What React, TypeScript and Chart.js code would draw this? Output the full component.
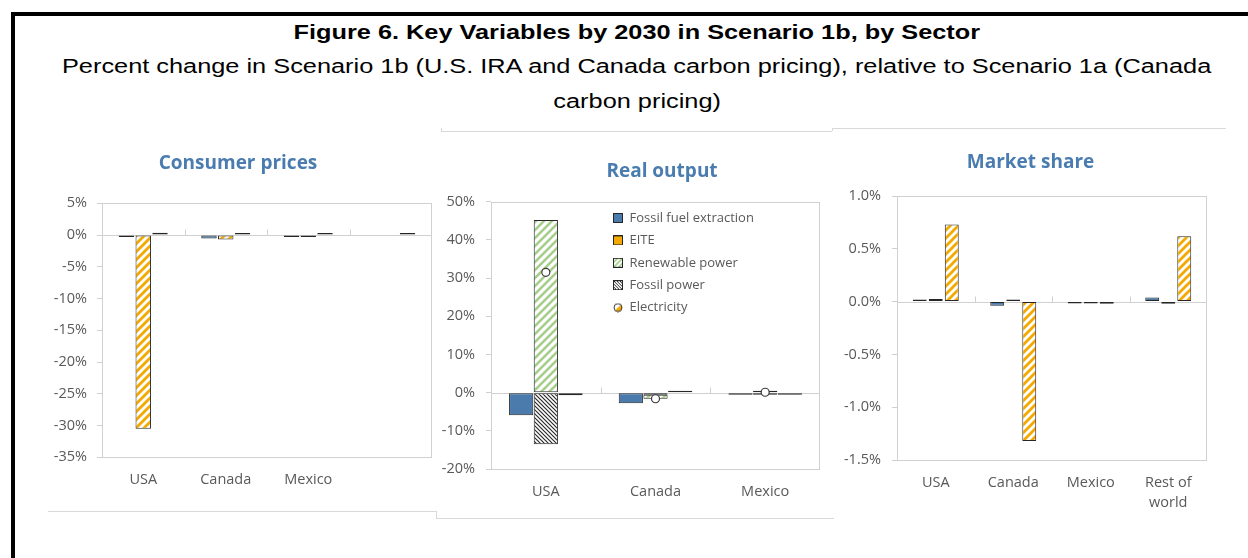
import React, { useEffect, useLayoutEffect, useRef } from "react";
import { Chart, registerables } from "chart.js";

Chart.register(...registerables);

// ---------------- data ----------------
const priceCategories = ["USA", "Canada", "Mexico", ""];
const priceFossilFuel = [-0.1, -0.55, -0.1, null];
const priceElectricity = [-30.5, -0.7, -0.1, null];
const priceEITE = [0.35, 0.1, 0.1, 0.1];
const priceAxis = { min: -35, max: 5, step: 5, decimals: 0 };

const outputCategories = ["USA", "Canada", "Mexico"];
const outputFossilFuel = [-5.9, -2.8, -0.2];
const outputEITE = [-0.7, 0.5, -0.2];
const outputRenewable = [45.2, -1.1, 0.1];
const outputFossilPower = [-13.5, -0.5, -0.1];
const outputElectricity = [31.5, -1.6, 0.1];
const outputAxis = { min: -20, max: 50, step: 10, decimals: 0 };

const shareCategories = ["USA", "Canada", "Mexico", ["Rest of", "world"]];
const shareFossilFuel = [0.005, -0.04, -0.01, 0.04];
const shareEITE = [0.025, 0.01, -0.01, -0.02];
const shareElectricity = [0.73, -1.32, -0.02, 0.62];
const shareAxis = { min: -1.5, max: 1.0, step: 0.5, decimals: 1 };

const legendLabels = ["Fossil fuel extraction", "EITE", "Renewable power", "Fossil power", "Electricity"];

const figureTitle = "Figure 6. Key Variables by 2030 in Scenario 1b, by Sector";
const subtitleLine1 = "Percent change in Scenario 1b (U.S. IRA and Canada carbon pricing), relative to Scenario 1a (Canada";
const subtitleLine2 = "carbon pricing)";

// ---------------- styles ----------------
const BLUE = "#4A7BAC";
const ORANGE = "#F3A900";
const GREEN = "#A6CE8B";
const DARK = "#262626";
const GRID = "#D0D0D0";
const TEXT = "#595959";
const TITLE = "#4A7CB0";
const FONT = "'Open Sans', 'Noto Sans', sans-serif";
const CHROME = "#D9D9D9";

function makeHatch(ctx: CanvasRenderingContext2D, fg: string, size: number, lw: number, rising: boolean) {
  const tile = document.createElement("canvas");
  tile.width = size;
  tile.height = size;
  const t = tile.getContext("2d")!;
  t.fillStyle = "#ffffff";
  t.fillRect(0, 0, size, size);
  t.strokeStyle = fg;
  t.lineWidth = lw;
  t.beginPath();
  for (let k = -1; k <= 1; k++) {
    const x0 = k * size;
    if (rising) {
      t.moveTo(x0 - 1, size + 1);
      t.lineTo(x0 + size + 1, -1);
    } else {
      t.moveTo(x0 - 1, -1);
      t.lineTo(x0 + size + 1, size + 1);
    }
  }
  t.stroke();
  return ctx.createPattern(tile, "repeat")!;
}

function boxIcon(fill: (c: CanvasRenderingContext2D) => string | CanvasPattern) {
  const c = document.createElement("canvas");
  c.width = 10;
  c.height = 10;
  const x = c.getContext("2d")!;
  x.fillStyle = fill(x) as any;
  x.fillRect(0, 0, 10, 10);
  x.strokeStyle = DARK;
  x.lineWidth = 1;
  x.strokeRect(0.5, 0.5, 9, 9);
  return c;
}

function circleIcon() {
  const c = document.createElement("canvas");
  c.width = 10;
  c.height = 10;
  const x = c.getContext("2d")!;
  x.beginPath();
  x.arc(5, 5, 4, 0, Math.PI * 2);
  x.fillStyle = "#ffffff";
  x.fill();
  x.beginPath();
  x.arc(5, 5, 4, -Math.PI / 4, (Math.PI * 3) / 4);
  x.closePath();
  x.fillStyle = ORANGE;
  x.fill();
  x.beginPath();
  x.arc(5, 5, 4, 0, Math.PI * 2);
  x.strokeStyle = "#3A3A3A";
  x.lineWidth = 1;
  x.stroke();
  return c;
}

const framePlugin = {
  id: "excelFrame",
  beforeDatasetsDraw(chart: any) {
    const { ctx, chartArea: a, scales } = chart;
    const x = scales.x;
    const y = scales.y;
    ctx.save();
    ctx.strokeStyle = GRID;
    ctx.lineWidth = 1;
    ctx.strokeRect(Math.round(a.left) + 0.5, Math.round(a.top) + 0.5, Math.round(a.width) - 1, Math.round(a.height));
    const y0 = Math.round(y.getPixelForValue(0)) + 0.5;
    ctx.beginPath();
    ctx.moveTo(a.left, y0);
    ctx.lineTo(a.right, y0);
    const n = chart.data.labels.length;
    for (let i = 1; i < n; i++) {
      const xb = Math.round((x.getPixelForValue(i - 1) + x.getPixelForValue(i)) / 2) + 0.5;
      ctx.moveTo(xb, y0 - 6);
      ctx.lineTo(xb, y0);
    }
    ctx.stroke();
    ctx.restore();
  },
};

type PanelOpts = {
  title: string;
  titlePad: { top: number; bottom: number };
  axis: { min: number; max: number; step: number; decimals: number };
  yWidth: number;
  yPad: number;
  xHeight: number;
  xPad: number;
  xLineHeight: number;
  rightGap: number;
  stacked?: boolean;
};

function panelOptions(p: PanelOpts, legend: any = { display: false }) {
  return {
    responsive: false,
    animation: false,
    events: [],
    devicePixelRatio: 1,
    layout: { padding: 0 },
    plugins: {
      title: {
        display: true,
        text: p.title,
        color: TITLE,
        font: { size: 19, weight: "bold", family: FONT, lineHeight: 1.2 },
        padding: p.titlePad,
      },
      legend,
      tooltip: { enabled: false },
    },
    scales: {
      x: {
        grid: { display: false, drawTicks: false },
        border: { display: false },
        ticks: {
          color: TEXT,
          padding: p.xPad,
          font: { size: 14.5, family: FONT, lineHeight: p.xLineHeight },
          maxRotation: 0,
          autoSkip: false,
        },
        afterFit: (s: any) => {
          s.height = p.xHeight;
        },
      },
      y: {
        min: p.axis.min,
        max: p.axis.max,
        stacked: p.stacked ? true : false,
        grid: { display: true, drawOnChartArea: false, drawTicks: true, tickLength: 5, color: GRID },
        border: { display: false },
        ticks: {
          stepSize: p.axis.step,
          color: TEXT,
          padding: p.yPad,
          font: { size: 14.5, family: FONT },
          callback: (v: any) => Number(v).toFixed(p.axis.decimals) + "%",
        },
        afterFit: (s: any) => {
          s.width = p.yWidth;
        },
      },
      // empty spacer on the right so the title stays centred on the whole chart object
      spacer: {
        type: "linear",
        position: "right",
        display: true,
        grid: { display: false, drawTicks: false },
        border: { display: false },
        ticks: { display: false },
        afterFit: (s: any) => {
          s.width = p.rightGap;
        },
      },
    },
  };
}

function Heading() {
  const t = useRef<HTMLSpanElement>(null);
  const s1 = useRef<HTMLSpanElement>(null);
  const s2 = useRef<HTMLSpanElement>(null);
  useLayoutEffect(() => {
    const fit = (el: HTMLSpanElement | null, target: number) => {
      if (!el) return 1;
      const w = el.offsetWidth || target;
      const k = target / w;
      el.style.transform = `scaleX(${k})`;
      return k;
    };
    fit(t.current, 687);
    const k = fit(s1.current, 1149);
    if (s2.current) s2.current.style.transform = `scaleX(${k})`;
  }, []);
  const line: React.CSSProperties = {
    position: "absolute",
    left: 25,
    width: 1224,
    textAlign: "center",
    whiteSpace: "nowrap",
    lineHeight: "24px",
    color: "#000",
  };
  const span: React.CSSProperties = { display: "inline-block", transformOrigin: "50% 50%" };
  return (
    <>
      <div style={{ ...line, top: 20, font: "bold 21px 'Liberation Sans', Arial, sans-serif" }}>
        <span ref={t} style={span}>{figureTitle}</span>
      </div>
      <div style={{ ...line, top: 55, font: "20px 'Liberation Sans', Arial, sans-serif" }}>
        <span ref={s1} style={span}>{subtitleLine1}</span>
      </div>
      <div style={{ ...line, top: 90, font: "20px 'Liberation Sans', Arial, sans-serif" }}>
        <span ref={s2} style={span}>{subtitleLine2}</span>
      </div>
    </>
  );
}

export default function App() {
  const c1 = useRef<HTMLCanvasElement>(null);
  const c2 = useRef<HTMLCanvasElement>(null);
  const c3 = useRef<HTMLCanvasElement>(null);

  useEffect(() => {
    const charts: Chart[] = [];

    // ---- Panel 1: Consumer prices ----
    const ctx1 = c1.current!.getContext("2d")!;
    const orangeHatch1 = makeHatch(ctx1, ORANGE, 8, 2.8, true);
    const bar1 = {
      borderColor: DARK,
      borderWidth: 1,
      borderSkipped: false,
      minBarLength: 2,
      categoryPercentage: 0.61,
      barPercentage: 0.92,
    };
    charts.push(
      new Chart(ctx1, {
        type: "bar",
        data: {
          labels: priceCategories,
          datasets: [
            { label: "Fossil fuel extraction", data: priceFossilFuel, backgroundColor: BLUE, ...bar1 },
            { label: "Electricity", data: priceElectricity, backgroundColor: orangeHatch1, ...bar1 },
            { label: "EITE", data: priceEITE, backgroundColor: ORANGE, ...bar1 },
          ],
        } as any,
        options: panelOptions({
          title: "Consumer prices",
          titlePad: { top: 11.9, bottom: 28.6 },
          axis: priceAxis,
          yWidth: 62,
          yPad: 10,
          xHeight: 54.7,
          xPad: 14,
          xLineHeight: 1.2,
          rightGap: 4,
        }) as any,
        plugins: [framePlugin],
      })
    );

    // ---- Panel 2: Real output ----
    const ctx2 = c2.current!.getContext("2d")!;
    const greenHatch = makeHatch(ctx2, GREEN, 8, 2.6, true);
    const darkHatch = makeHatch(ctx2, "#2A2A2A", 4, 1.2, false);
    const icons = [
      boxIcon(() => BLUE),
      boxIcon(() => ORANGE),
      boxIcon((c) => makeHatch(c, GREEN, 5, 1.6, true)),
      boxIcon((c) => makeHatch(c, "#2A2A2A", 3, 1, false)),
      circleIcon(),
    ];
    const bar2 = {
      borderColor: DARK,
      borderWidth: 1,
      borderSkipped: false,
      minBarLength: 2,
      categoryPercentage: 0.675,
      barPercentage: 0.98,
    };
    const legendPlace = {
      id: "legendPlace",
      afterLayout(chart: any) {
        const lg = chart.legend;
        if (!lg) return;
        const w = lg.width;
        const h = lg.height;
        lg.left = 162.6;
        lg.top = 62.1;
        lg.right = lg.left + w;
        lg.bottom = lg.top + h;
      },
    };
    charts.push(
      new Chart(ctx2, {
        type: "bar",
        data: {
          labels: outputCategories,
          datasets: [
            { label: "Fossil fuel extraction", data: outputFossilFuel, backgroundColor: BLUE, stack: "a", ...bar2 },
            { label: "Fossil power", data: outputFossilPower, backgroundColor: darkHatch, stack: "b", ...bar2 },
            { label: "Renewable power", data: outputRenewable, backgroundColor: greenHatch, stack: "b", ...bar2 },
            { label: "EITE", data: outputEITE, backgroundColor: ORANGE, stack: "c", ...bar2 },
            {
              type: "line",
              label: "Electricity",
              data: outputElectricity,
              showLine: false,
              pointRadius: 4,
              pointBackgroundColor: "#ffffff",
              pointBorderColor: "#3A3A3A",
              pointBorderWidth: 1.2,
              order: -1,
            },
          ],
        } as any,
        options: panelOptions(
          {
            title: "Real output",
            titlePad: { top: 20.3, bottom: 18.6 },
            axis: outputAxis,
            yWidth: 50,
            yPad: 11,
            xHeight: 49,
            xPad: 14.6,
            xLineHeight: 1.2,
            rightGap: 63,
            stacked: true,
          },
          {
            display: true,
            position: "chartArea",
            align: "start",
            labels: {
              usePointStyle: true,
              boxWidth: 10,
              boxHeight: 10,
              padding: 9.4,
              color: TEXT,
              font: { size: 13, family: FONT },
              generateLabels: () =>
                legendLabels.map((text, i) => ({
                  text,
                  pointStyle: icons[i],
                  fillStyle: "rgba(0,0,0,0)",
                  strokeStyle: "rgba(0,0,0,0)",
                  lineWidth: 0,
                  hidden: false,
                  fontColor: TEXT,
                  datasetIndex: i,
                })),
            },
          }
        ) as any,
        plugins: [framePlugin, legendPlace],
      })
    );

    // ---- Panel 3: Market share ----
    const ctx3 = c3.current!.getContext("2d")!;
    const orangeHatch3 = makeHatch(ctx3, ORANGE, 8, 2.8, true);
    const bar3 = {
      borderColor: DARK,
      borderWidth: 1,
      borderSkipped: false,
      minBarLength: 2,
      categoryPercentage: 0.62,
      barPercentage: 0.87,
    };
    charts.push(
      new Chart(ctx3, {
        type: "bar",
        data: {
          labels: shareCategories,
          datasets: [
            { label: "Fossil fuel extraction", data: shareFossilFuel, backgroundColor: BLUE, ...bar3 },
            { label: "EITE", data: shareEITE, backgroundColor: ORANGE, ...bar3 },
            { label: "Electricity", data: shareElectricity, backgroundColor: orangeHatch3, ...bar3 },
          ],
        } as any,
        options: panelOptions({
          title: "Market share",
          titlePad: { top: 23.3, bottom: 21.9 },
          axis: shareAxis,
          yWidth: 57,
          yPad: 11,
          xHeight: 65,
          xPad: 12.5,
          xLineHeight: 1.38,
          rightGap: 14,
        }) as any,
        plugins: [framePlugin],
      })
    );

    return () => charts.forEach((c) => c.destroy());
  }, []);

  const abs = (l: number, t: number, w: number, h: number, bg: string): React.CSSProperties => ({
    position: "absolute",
    left: l,
    top: t,
    width: w,
    height: h,
    background: bg,
  });

  return (
    <div
      style={{
        position: "fixed",
        left: 0,
        top: 0,
        width: 1248,
        height: 558,
        background: "#ffffff",
        overflow: "hidden",
      }}
    >
      {/* black frame */}
      <div style={abs(11, 12, 4, 546, "#000")} />
      <div style={abs(11, 12, 1237, 4, "#000")} />
      {/* chart object borders */}
      <div style={abs(48, 511, 388, 1, CHROME)} />
      <div style={abs(436, 511, 1, 7, CHROME)} />
      <div style={abs(436, 518, 398, 1, CHROME)} />
      <div style={abs(441, 131, 391, 1, CHROME)} />
      <div style={abs(441, 128, 1, 3, CHROME)} />
      <div style={abs(832, 128, 394, 1, CHROME)} />
      <div style={abs(832, 128, 1, 3, CHROME)} />
      <Heading />
      <canvas ref={c1} width={396} height={372} style={{ position: "absolute", left: 40, top: 140 }} />
      <canvas ref={c2} width={442} height={378} style={{ position: "absolute", left: 441, top: 140 }} />
      <canvas ref={c3} width={381} height={397} style={{ position: "absolute", left: 840, top: 128 }} />
    </div>
  );
}
